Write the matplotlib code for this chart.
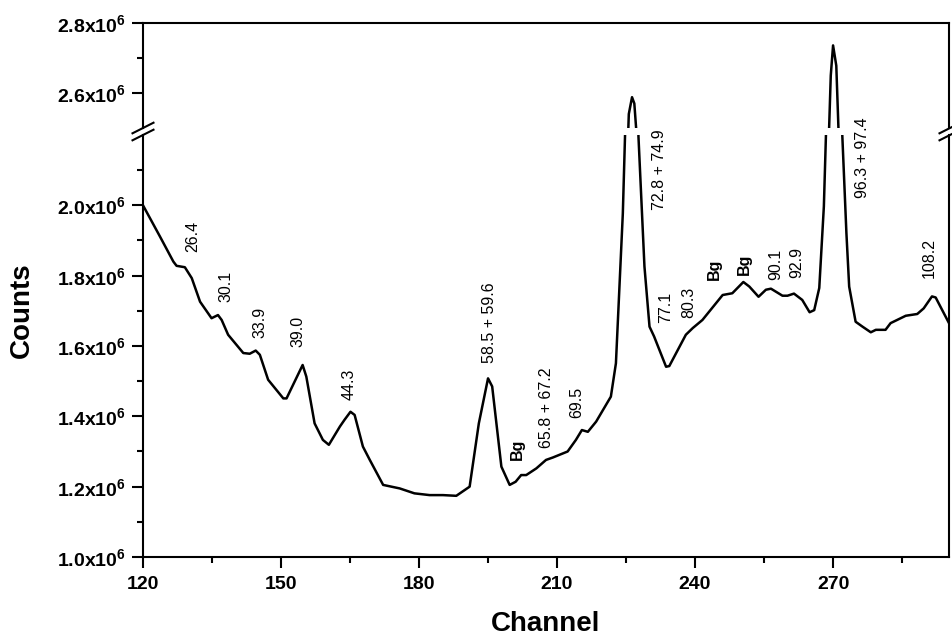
import numpy as np
import matplotlib
matplotlib.use("Agg")
import matplotlib.pyplot as plt
from matplotlib.ticker import FixedLocator, MultipleLocator, FuncFormatter
from matplotlib.lines import Line2D

plt.rcParams['font.family'] = ['Liberation Sans', 'DejaVu Sans']
plt.rcParams['mathtext.fontset'] = 'custom'
plt.rcParams['mathtext.rm'] = 'Liberation Sans:bold'
plt.rcParams['mathtext.bf'] = 'Liberation Sans:bold'
plt.rcParams['mathtext.it'] = 'Liberation Sans:bold'

# ------------------------------------------------------------------
# Spectrum (counts in units of 1e6)
# ------------------------------------------------------------------
channel = [120.0, 123.7, 126.6, 127.3, 129.1, 130.6, 132.4, 134.9, 136.3, 137.1,
           138.5, 141.8, 143.2, 144.5, 145.4, 147.2, 150.5, 151.2, 154.7, 155.5,
           157.3, 159.1, 160.4, 162.8, 163.8, 165.1, 166.0, 167.8, 169.3, 172.2,
           175.8, 179.0, 182.3, 185.2, 188.1, 191.0, 193.0, 195.0, 195.9, 197.9,
           199.7, 201.0, 202.2, 203.3, 205.5, 207.6, 209.1, 212.3, 214.1, 215.4,
           216.7, 218.5, 221.7, 222.8, 224.3, 225.0, 225.6, 226.3, 226.8, 227.3,
           227.7, 229.0, 230.1, 231.1, 233.7, 234.4, 238.0, 239.5, 241.6, 246.0,
           248.1, 250.5, 251.8, 253.8, 255.4, 256.5, 259.0, 260.1, 261.5, 263.3,
           264.9, 265.9, 267.0, 268.0, 268.9, 269.5, 270.0, 270.7, 271.3, 272.0,
           272.9, 273.5, 274.9, 276.4, 278.2, 279.3, 281.4, 282.5, 285.8, 288.3,
           289.7, 291.5, 292.3, 295.2]
counts_e6 = [2.000, 1.911, 1.840, 1.828, 1.824, 1.793, 1.726, 1.679, 1.688, 1.674,
             1.632, 1.580, 1.578, 1.587, 1.575, 1.504, 1.451, 1.451, 1.546, 1.513,
             1.380, 1.333, 1.319, 1.371, 1.390, 1.413, 1.404, 1.314, 1.276, 1.205,
             1.195, 1.181, 1.176, 1.176, 1.174, 1.200, 1.380, 1.508, 1.485, 1.257,
             1.205, 1.214, 1.233, 1.233, 1.252, 1.276, 1.283, 1.300, 1.333, 1.361,
             1.356, 1.385, 1.456, 1.551, 1.977, 2.300, 2.540, 2.588, 2.570, 2.480,
             2.195, 1.826, 1.655, 1.627, 1.541, 1.543, 1.632, 1.651, 1.674, 1.745,
             1.750, 1.782, 1.769, 1.740, 1.760, 1.763, 1.743, 1.743, 1.749, 1.731,
             1.696, 1.702, 1.765, 1.997, 2.400, 2.650, 2.736, 2.678, 2.450, 2.201,
             1.921, 1.769, 1.669, 1.655, 1.639, 1.646, 1.646, 1.665, 1.686, 1.691,
             1.707, 1.741, 1.738, 1.665]

peak_labels = ["26.4", "30.1", "33.9", "39.0", "44.3", "58.5 + 59.6", "Bg",
               "65.8 + 67.2", "69.5", "72.8 + 74.9", "77.1", "80.3", "Bg", "Bg",
               "90.1", "92.9", "96.3 + 97.4", "108.2"]
label_x = [130.9, 138.0, 145.4, 153.6, 164.8, 195.3, 201.4, 207.7, 214.2, 232.2,
           233.7, 238.7, 244.2, 250.7, 257.5, 262.2, 276.3, 291.0]
label_y_e6 = [1.868, 1.726, 1.622, 1.598, 1.447, 1.551, 1.276, 1.309, 1.395, 1.987,
              1.665, 1.679, 1.788, 1.802, 1.788, 1.793, 2.020, 1.793]

# y ticks of the two halves of the broken axis (units of 1e6)
upper_major = [2.6, 2.8]
upper_minor = [2.7]
lower_major = [1.0, 1.2, 1.4, 1.6, 1.8, 2.0]
lower_minor = [1.1, 1.3, 1.5, 1.7, 1.9, 2.1]

x = np.array(channel)
y = np.array(counts_e6) * 1e6

# ------------------------------------------------------------------ layout (pixels of a 953x637 canvas)
W_PX, H_PX = 953, 637
left, right = 143, 949
top_up, bot_up = 23, 128
top_lo, bot_lo = 135, 557

fig = plt.figure(figsize=(9.53, 6.37), dpi=100)
ax_up = fig.add_axes([left / W_PX, 1 - bot_up / H_PX, (right - left) / W_PX, (bot_up - top_up) / H_PX])
ax_lo = fig.add_axes([left / W_PX, 1 - bot_lo / H_PX, (right - left) / W_PX, (bot_lo - top_lo) / H_PX])

fmt = FuncFormatter(lambda v, p: f"{v / 1e6:.1f}x10$^{{6}}$")

for ax, maj, mnr in ((ax_up, upper_major, upper_minor), (ax_lo, lower_major, lower_minor)):
    ax.plot(x, y, color='black', lw=1.8)
    ax.set_xlim(120, 295.2)
    for s in ax.spines.values():
        s.set_linewidth(1.5)
    ax.yaxis.set_major_locator(FixedLocator([v * 1e6 for v in maj]))
    ax.yaxis.set_minor_locator(FixedLocator([v * 1e6 for v in mnr]))
    ax.yaxis.set_major_formatter(fmt)
    ax.tick_params(axis='both', which='major', direction='out', length=8, width=1.5,
                   labelsize=14, pad=4, top=False, right=False)
    ax.tick_params(axis='both', which='minor', direction='out', length=4.5, width=1.5,
                   top=False, right=False)

ax_up.set_ylim(2.5e6, 2.8e6)
ax_lo.set_ylim(1.0e6, 2.2e6)

ax_up.spines['bottom'].set_visible(False)
ax_up.tick_params(axis='x', which='both', bottom=False, labelbottom=False)
ax_lo.spines['top'].set_visible(False)

ax_lo.xaxis.set_major_locator(FixedLocator(np.arange(120, 271, 30)))
ax_lo.xaxis.set_minor_locator(MultipleLocator(15))
ax_lo.tick_params(axis='x', which='major', pad=6)

for ax in (ax_up, ax_lo):
    for lab in ax.get_yticklabels() + ax.get_xticklabels():
        lab.set_fontweight('bold')

# peak annotations
for txt, lx, ly in zip(peak_labels, label_x, label_y_e6):
    ax_lo.text(lx, ly * 1e6, txt, rotation=90, ha='center', va='bottom',
               fontsize=11.5, fontweight='bold' if txt == "Bg" else 'normal',
               clip_on=False)

# axis break marks
for xs in (left, right + 1):
    for yc in (bot_up, top_lo):
        fig.add_artist(Line2D([(xs - 10.5) / W_PX, (xs + 10.5) / W_PX],
                              [1 - (yc + 5.3) / H_PX, 1 - (yc - 5.3) / H_PX],
                              transform=fig.transFigure, color='black', lw=1.5))

fig.text(22 / W_PX, 1 - 310 / H_PX, "Counts", rotation=90, ha='center', va='center',
         fontsize=20, fontweight='bold')
fig.text((left + right) / 2 / W_PX, 1 - 624 / H_PX, "Channel", ha='center', va='center',
         fontsize=20, fontweight='bold')

fig.savefig("out.png", dpi=100)
